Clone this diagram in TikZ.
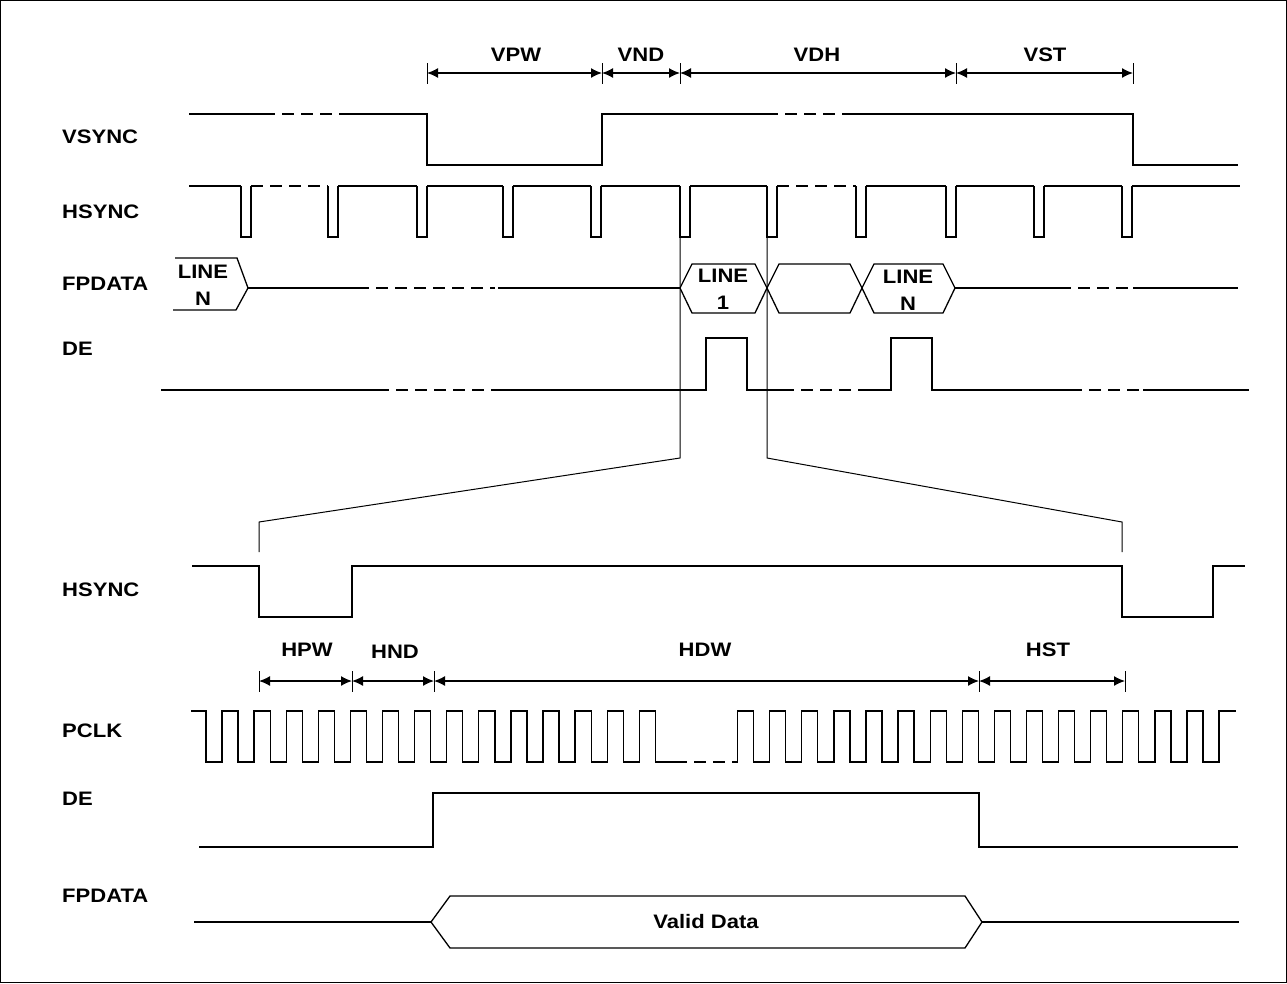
\documentclass[tikz,border=0pt]{standalone}
\usepackage{fontspec}
\setmainfont{Liberation Sans}[FakeStretch=1.13]
\usetikzlibrary{arrows.meta}

\begin{document}
\begin{tikzpicture}[x=1pt,y=-1pt,
    sig/.style={line width=1.3pt},
    gap/.style={line width=1.3pt,dash pattern=on 12pt off 7pt},
    zoomline/.style={line width=1pt},
    tick/.style={line width=1pt},
    dim/.style={line width=1.4pt,{Latex[length=11pt,width=10pt]}-{Latex[length=11pt,width=10pt]}},
    lbl/.style={anchor=west,inner sep=0pt,font=\bfseries\fontsize{19.5}{27}\selectfont},
    txt/.style={inner sep=0pt,align=center,font=\bfseries\fontsize{19.5}{27}\selectfont}]
    \useasboundingbox (0,0) rectangle (1287,983);
    % Frame
    \draw[line width=1pt] (0.5,0.5) rectangle (1286.5,982.5);

    % Signal names
    \node[lbl] (vsyncl) at (62,137) {VSYNC};
    \node[lbl] (hsyncl) at (62,212) {HSYNC};
    \node[lbl] (fpdatal) at (62,284) {FPDATA};
    \node[lbl] (del) at (62,349) {DE};
    \node[lbl] (hsyncz) at (62,590) {HSYNC};
    \node[lbl] (pclkz) at (62,731) {PCLK};
    \node[lbl] (dez) at (62,799) {DE};
    \node[lbl] (fpdataz) at (62,896) {FPDATA};

    % Vertical timing
    \coordinate (v0) at (427,73);
    \coordinate (v1) at (602,73);
    \coordinate (v2) at (680,73);
    \coordinate (v3) at (956,73);
    \coordinate (v4) at (1133,73);
    \foreach \c in {v0,v1,v2,v3,v4}
        \draw[tick] (\c) ++(0,-10) -- ++(0,21);
    \draw[dim] (v0) -- (v1);
    \draw[dim] (v1) -- (v2);
    \draw[dim] (v2) -- (v3);
    \draw[dim] (v3) -- (v4);
    \node[txt] (vpw) at (516,55) {VPW};
    \node[txt] (vnd) at (641,55) {VND};
    \node[txt] (vdh) at (817,55) {VDH};
    \node[txt] (vst) at (1045,55) {VST};

    % VSYNC
    \draw[sig] (189,114) -- (263,114);
    \draw[gap] (263,114) -- (350,114);
    \draw[sig] (350,114) -- (427,114) -- (427,165) -- (602,165) -- (602,114) -- (766,114);
    \draw[gap] (766,114) -- (847,114);
    \draw[sig] (847,114) -- (1133,114) -- (1133,165) -- (1238,165);

    % HSYNC
    \foreach \x in {241,328,417,503,591,680,767,856,946,1034,1122}
        \draw[sig] (\x,186) -- (\x,237) -- (\x+10,237) -- (\x+10,186);
    \foreach \a/\b in {189/241,338/417,427/503,513/591,601/680,690/767,866/946,956/1034,1044/1122,1132/1240}
        \draw[sig] (\a,186) -- (\b,186);
    \draw[gap] (251,186) -- (328,186);
    \draw[gap] (777,186) -- (856,186);

    % FPDATA
    \draw[sig] (175,258) -- (237,258) -- (248,288) -- (236,310) -- (173,310);
    \node[txt] (linen0) at (203,285) {LINE\\N};
    \draw[sig] (248,288) -- (357,288);
    \draw[gap] (357,288) -- (495,288);
    \draw[sig] (498,288) -- (680,288);
    \draw[sig] (680,288) -- (692,264) -- (755,264) -- (767,288) -- (755,313) -- (692,313) -- cycle;
    \draw[sig] (767,288) -- (779,264) -- (850,264) -- (862,288) -- (850,313) -- (779,313) -- cycle;
    \draw[sig] (862,288) -- (874,264) -- (943,264) -- (955,288) -- (943,313) -- (874,313) -- cycle;
    \node[txt] (line1) at (723,289) {LINE\\1};
    \node[txt] (linen) at (908,290) {LINE\\N};
    \draw[sig] (955,288) -- (1059,288);
    \draw[gap] (1059,288) -- (1133,288);
    \draw[sig] (1133,288) -- (1238,288);

    % DE
    \draw[sig] (161,390) -- (377,390);
    \draw[gap] (377,390) -- (497,390);
    \draw[sig] (497,390) -- (706,390) -- (706,338) -- (747,338) -- (747,390) -- (782,390);
    \draw[gap] (782,390) -- (859,390);
    \draw[sig] (859,390) -- (891,390) -- (891,338) -- (932,338) -- (932,390) -- (1070,390);
    \draw[gap] (1070,390) -- (1143,390);
    \draw[sig] (1143,390) -- (1249,390);

    % Zoom lines
    \draw[zoomline] (680,237) -- (680,458) -- (259,522) -- (259,552);
    \draw[zoomline] (767,237) -- (767,458) -- (1122,522) -- (1122,552);

    % HSYNC (one line)
    \draw[sig] (192,566) -- (259,566) -- (259,617) -- (352,617) -- (352,566) -- (1122,566)
        -- (1122,617) -- (1213,617) -- (1213,566) -- (1245,566);

    % Horizontal timing
    \coordinate (h0) at (259,681);
    \coordinate (h1) at (352,681);
    \coordinate (h2) at (434,681);
    \coordinate (h3) at (979,681);
    \coordinate (h4) at (1125,681);
    \foreach \c in {h0,h1,h2,h3,h4}
        \draw[tick] (\c) ++(0,-10) -- ++(0,21);
    \draw[dim] (h0) -- (h1);
    \draw[dim] (h1) -- (h2);
    \draw[dim] (h2) -- (h3);
    \draw[dim] (h3) -- (h4);
    \node[txt] (hpw) at (307,650) {HPW};
    \node[txt] (hnd) at (395,652) {HND};
    \node[txt] (hdw) at (705,650) {HDW};
    \node[txt] (hst) at (1048,650) {HST};

    % PCLK
    \draw[sig] (191,711) foreach \k in {0,...,13} {
        -- (206+32.1*\k,711) -- (206+32.1*\k,762) -- (222+32.1*\k,762) -- (222+32.1*\k,711)}
        -- (655.4,711) -- (655.4,762) -- (675,762);
    \draw[gap] (675,762) -- (737.5,762);
    \draw[sig] (737.5,762) -- (737.5,711) foreach \k in {0,...,14} {
        -- (753.6+32.1*\k,711) -- (753.6+32.1*\k,762) -- (769.7+32.1*\k,762) -- (769.7+32.1*\k,711)}
        -- (1236,711);

    % DE (one line)
    \draw[sig] (199,847) -- (433,847) -- (433,793) -- (979,793) -- (979,847) -- (1238,847);

    % FPDATA (one line)
    \draw[sig] (194,922) -- (431,922);
    \draw[sig] (431,922) -- (450,896) -- (965,896) -- (982,922) -- (965,948) -- (450,948) -- cycle;
    \node[txt] (valid) at (706,922) {Valid Data};
    \draw[sig] (982,922) -- (1239,922);
\end{tikzpicture}
\end{document}
